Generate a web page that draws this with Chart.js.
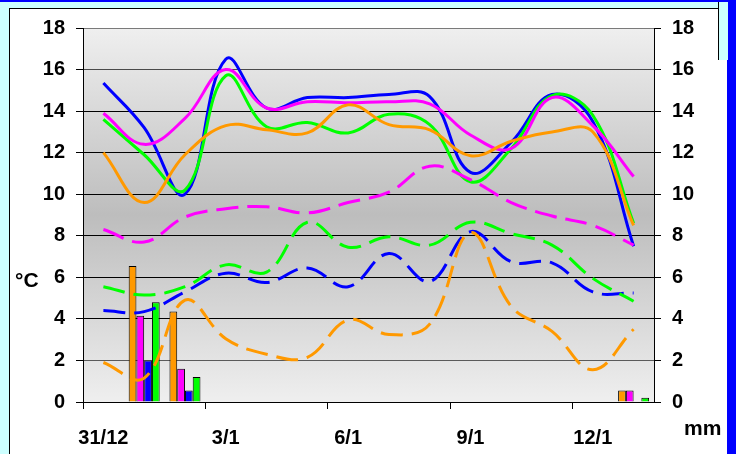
<!DOCTYPE html>
<html>
<head>
<meta charset="utf-8">
<script src="https://cdn.jsdelivr.net/npm/chart.js@4/dist/chart.umd.min.js"></script>
<style>
  html, body { margin: 0; padding: 0; }
  body { width: 736px; height: 454px; overflow: hidden; background: #0000ff; position: relative; font-family: "Liberation Sans", Arial, sans-serif; }
  #cyan { position: absolute; left: 0; top: 2px; width: 727px; height: 452px; background: #ccffff; }
  #panel { position: absolute; left: 9px; top: 8px; width: 717px; height: 460px; background: #ffffff; border-left: 1px solid #000; border-top: 1px solid #000; }
  #rstrip { position: absolute; left: 718px; top: 2px; width: 9px; height: 58px; background: #ccffff; border-left: 1px solid #000; }
  #wrap { position: absolute; left: 0; top: 0; width: 736px; height: 454px; }
  .lbl { position: absolute; font-weight: bold; font-size: 21px; line-height: 1; color: #000; white-space: nowrap; }
</style>
</head>
<body>
<div id="cyan"></div>
<div id="panel"></div>
<div id="rstrip"></div>
<div id="wrap"><canvas id="c" width="736" height="454"></canvas></div>
<div class="lbl" style="left:15px; top:269px;">°C</div>
<div class="lbl" style="left:684px; top:417px;">mm</div>
<script>
// ---- data ----
const categories = ['31/12','1/1','2/1','3/1','4/1','5/1','6/1','7/1','8/1','9/1','10/1','11/1','12/1','13/1'];

// maximum temperatures (solid lines, °C)
const orangeMax  = [12.0, 9.6, 11.9, 13.3, 13.1, 12.95, 14.3, 13.35, 13.1, 11.85, 12.55, 13.0, 13.0, 8.5];
const magentaMax = [13.9, 12.4, 13.65, 16.0, 14.15, 14.45, 14.4, 14.45, 14.35, 12.85, 12.2, 14.65, 13.3, 10.85];
const blueMax    = [15.35, 13.2, 10.0, 16.5, 14.15, 14.65, 14.65, 14.8, 14.7, 11.05, 12.5, 14.8, 13.5, 7.5];
const greenMax   = [13.6, 11.9, 10.2, 15.7, 13.25, 13.45, 12.95, 13.85, 13.35, 10.6, 12.2, 14.75, 13.8, 8.6];

// minimum temperatures (dashed lines, °C)
const orangeMin  = [1.9, 1.15, 4.9, 3.05, 2.3, 2.15, 3.95, 3.25, 3.75, 8.15, 4.6, 3.4, 1.55, 3.5];
const magentaMin = [8.3, 7.7, 8.9, 9.3, 9.4, 9.1, 9.6, 10.1, 11.35, 10.7, 9.6, 8.95, 8.5, 7.55];
const blueMin    = [4.4, 4.35, 5.3, 6.2, 5.75, 6.45, 5.55, 7.15, 5.8, 8.2, 6.75, 6.7, 5.3, 5.25];
const greenMin   = [5.55, 5.15, 5.55, 6.6, 6.25, 8.65, 7.45, 7.95, 7.55, 8.65, 8.1, 7.55, 5.95, 4.85];

// precipitation (bars, mm)
const orangeRain  = [null, 6.55, 4.35, null, null, null, null, null, null, null, null, null, null, 0.55];
const magentaRain = [null, 4.15, 1.6, null, null, null, null, null, null, null, null, null, null, 0.55];
const blueRain    = [null, 2.0, 0.55, null, null, null, null, null, null, null, null, null, null, null];
const greenRain   = [null, 4.8, 1.2, null, null, null, null, null, null, null, null, null, null, 0.2];

const tempTicks = [0, 2, 4, 6, 8, 10, 12, 14, 16, 18];

// ---- styles ----
const ORANGE = '#ff9900', MAGENTA = '#ff00ff', BLUE = '#0000ff', GREEN = '#00ff00';
const FONT = { family: '"Liberation Sans", Arial, sans-serif', size: 20, weight: 'bold' };
const DASH = [22, 9];

function lineDs(data, color, dashed) {
  return {
    type: 'line', data, borderColor: color, backgroundColor: color,
    borderWidth: 3, pointRadius: 0, fill: false, tension: 0.4,
    borderDash: dashed ? DASH : [], borderCapStyle: 'butt',
    yAxisID: 'y', order: 0
  };
}
function barDs(data, color) {
  return {
    type: 'bar', data, backgroundColor: color, borderColor: '#000', borderWidth: 1,
    yAxisID: 'y1', order: 1, categoryPercentage: 0.76, barPercentage: 1.0
  };
}

function gridColor(c) {
  const v = c.tick ? c.tick.value : null;
  if (v === 18) return '#7a7a7a';
  if (v === 16) return '#4a4a4a';
  if (v === 2) return '#5a5a5a';
  return '#000';
}

const bgPlugin = {
  id: 'plotBg',
  beforeDraw(chart) {
    const { ctx, chartArea: a } = chart;
    const g = ctx.createLinearGradient(0, a.top, 0, a.bottom);
    g.addColorStop(0, '#efefef');
    g.addColorStop(0.5, '#bdbdbd');
    g.addColorStop(1, '#efefef');
    ctx.save();
    ctx.fillStyle = g;
    ctx.fillRect(a.left, a.top, a.right - a.left, a.bottom - a.top);
    ctx.restore();
  }
};

new Chart(document.getElementById('c'), {
  data: {
    labels: categories,
    datasets: [
      barDs(orangeRain, ORANGE),
      barDs(magentaRain, MAGENTA),
      barDs(blueRain, BLUE),
      barDs(greenRain, GREEN),
      lineDs(orangeMin, ORANGE, true),
      lineDs(magentaMin, MAGENTA, true),
      lineDs(greenMin, GREEN, true),
      lineDs(blueMin, BLUE, true),
      lineDs(orangeMax, ORANGE, false),
      lineDs(magentaMax, MAGENTA, false),
      lineDs(greenMax, GREEN, false),
      lineDs(blueMax, BLUE, false)
    ]
  },
  options: {
    responsive: false,
    animation: false,
    devicePixelRatio: 1,
    layout: { padding: { top: 28, left: 0, right: 0, bottom: 0 } },
    plugins: { legend: { display: false }, tooltip: { enabled: false } },
    scales: {
      x: {
        type: 'category', offset: true,
        grid: {
          offset: true, drawOnChartArea: false, drawTicks: true, tickLength: 7,
          tickColor: (c) => (c.index !== undefined && c.index % 3 === 0) ? '#000' : 'rgba(0,0,0,0)'
        },
        border: { color: '#000', width: 1 },
        ticks: {
          autoSkip: false, maxRotation: 0, minRotation: 0, padding: 17, color: '#000', font: FONT,
          callback: (v, i) => (i % 3 === 0 ? categories[i] : '')
        },
        afterFit(s) { s.height = 52; }
      },
      y: {
        position: 'left', min: 0, max: 18,
        afterBuildTicks(s) { s.ticks = tempTicks.map(v => ({ value: v })); },
        ticks: { color: '#000', font: FONT, padding: 11 },
        grid: { color: gridColor, lineWidth: 1, tickLength: 7, tickColor: '#000' },
        border: { color: '#000', width: 1 },
        afterFit(s) { s.width = 83; }
      },
      y1: {
        position: 'right', min: 0, max: 18,
        afterBuildTicks(s) { s.ticks = tempTicks.map(v => ({ value: v })); },
        ticks: { color: '#000', font: FONT, padding: 11 },
        grid: { drawOnChartArea: false, tickLength: 7, color: '#000', tickColor: '#000' },
        border: { color: '#000', width: 1 },
        afterFit(s) { s.width = 82; }
      }
    }
  },
  plugins: [bgPlugin]
});
</script>
</body>
</html>
